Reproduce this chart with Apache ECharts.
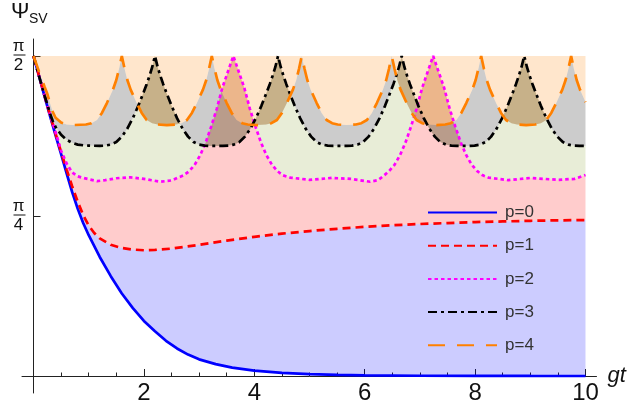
<!DOCTYPE html>
<html><head><meta charset="utf-8">
<script src="https://cdn.jsdelivr.net/npm/echarts@6/dist/echarts.min.js"></script>
<style>html,body{margin:0;padding:0;background:#fff}#c{width:631px;height:414px}</style>
</head><body><div id="c"></div>
<script>
// ---- data (x = gt, y = Ψ_SV / π) ----
const seriesNames = ['p=0', 'p=1', 'p=2', 'p=3', 'p=4'];
const xTickLabels = [2, 4, 6, 8, 10];
const yTickValues = [0.25, 0.5];          // Ψ/π  -> π/4, π/2
const yTickDenominators = ['4', '2'];

const p0 = [[0,0.5],[0.1,0.4685],[0.2,0.437],[0.3,0.406],[0.4,0.376],[0.5,0.3465],[0.6,0.3165],[0.7,0.2875],[0.8,0.2615],[0.9,0.239],[1.0,0.22],[1.2,0.186],[1.4,0.156],[1.6,0.129],[1.8,0.106],[2.0,0.086],[2.2,0.07],[2.4,0.055],[2.6,0.043],[2.8,0.0335],[3.0,0.026],[3.3,0.0185],[3.6,0.013],[4.0,0.0085],[4.5,0.005],[5.0,0.003],[5.5,0.00175],[6.0,0.001],[7.0,0.0004],[8.0,0.00015],[9.0,0.00005],[10,0.00002]];

const p1 = [[0,0.5],[0.1,0.469],[0.2,0.438],[0.3,0.4075],[0.4,0.3785],[0.5,0.35],[0.6,0.3225],[0.7,0.2965],[0.8,0.2725],[0.9,0.2515],[1.0,0.235],[1.1,0.2235],[1.2,0.215],[1.4,0.205],[1.6,0.2],[1.8,0.1975],[2.0,0.1965],[2.2,0.197],[2.5,0.199],[3.0,0.205],[3.5,0.2115],[4.0,0.2175],[4.5,0.2225],[5.0,0.2265],[5.5,0.23],[6.0,0.233],[6.5,0.2355],[7.0,0.2375],[7.5,0.239],[8.0,0.2405],[8.5,0.2415],[9.0,0.2425],[9.5,0.2432],[10,0.2437]];

const p2 = [[0,0.5],[0.1,0.469],[0.2,0.4385],[0.3,0.409],[0.4,0.381],[0.5,0.352],[0.6,0.332],[0.7,0.318],[0.8,0.312],[0.9,0.3095],[1.0,0.3075],[1.15,0.3045],[1.3,0.306],[1.5,0.309],[1.75,0.3105],[2.0,0.308],[2.3,0.3035],[2.5,0.3055],[2.62,0.31],[2.72,0.3135],[2.82,0.32],[2.92,0.33],[3.02,0.345],[3.12,0.365],[3.22,0.39],[3.32,0.4175],[3.42,0.45],[3.52,0.475],[3.62,0.5],[3.72,0.475],[3.82,0.45],[3.92,0.4175],[4.02,0.39],[4.12,0.365],[4.22,0.345],[4.32,0.33],[4.42,0.32],[4.52,0.3135],[4.65,0.31],[5.0,0.3065],[5.4,0.3095],[5.75,0.308],[6.1,0.3035],[6.24,0.306],[6.34,0.3125],[6.44,0.32],[6.54,0.33],[6.64,0.345],[6.74,0.365],[6.84,0.39],[6.94,0.4175],[7.04,0.45],[7.14,0.475],[7.24,0.5],[7.34,0.475],[7.44,0.45],[7.54,0.4175],[7.64,0.39],[7.74,0.365],[7.84,0.345],[7.94,0.33],[8.04,0.32],[8.14,0.3135],[8.24,0.31],[8.6,0.306],[9.0,0.3095],[9.5,0.3065],[9.8,0.308],[10,0.314]];

const p3 = [[0,0.5],[0.1,0.4685],[0.2,0.4385],[0.3,0.41],[0.35,0.398],[0.4,0.389],[0.5,0.377],[0.6,0.369],[0.7,0.3645],[0.8,0.3615],[0.9,0.3605],[1.0,0.36],[1.2,0.3595],
[1.3,0.36],[1.4,0.3615],[1.5,0.3655],[1.6,0.374],[1.7,0.3865],[1.8,0.403],[1.9,0.4225],[2.0,0.4445],[2.05,0.456],[2.1,0.4685],[2.15,0.4825],[2.2,0.5],[2.25,0.4825],[2.3,0.4685],[2.35,0.456],[2.4,0.4445],[2.5,0.4225],[2.6,0.403],[2.7,0.3865],[2.8,0.374],[2.9,0.3655],[3.0,0.3615],[3.1,0.36],[3.2,0.3595],[3.32,0.3595],
[3.43,0.3595],[3.53,0.36],[3.63,0.3615],[3.73,0.3655],[3.83,0.374],[3.93,0.3865],[4.03,0.403],[4.13,0.4225],[4.23,0.4445],[4.28,0.456],[4.33,0.4685],[4.38,0.4825],[4.43,0.5],[4.48,0.4825],[4.53,0.4685],[4.58,0.456],[4.63,0.4445],[4.73,0.4225],[4.83,0.403],[4.93,0.3865],[5.03,0.374],[5.13,0.3655],[5.23,0.3615],[5.33,0.36],[5.43,0.3595],[5.55,0.3595],
[5.67,0.3595],[5.77,0.36],[5.87,0.3615],[5.97,0.3655],[6.07,0.374],[6.17,0.3865],[6.27,0.403],[6.37,0.4225],[6.47,0.4445],[6.52,0.456],[6.57,0.4685],[6.62,0.4825],[6.67,0.5],[6.72,0.4825],[6.77,0.4685],[6.82,0.456],[6.87,0.4445],[6.97,0.4225],[7.07,0.403],[7.17,0.3865],[7.27,0.374],[7.37,0.3655],[7.47,0.3615],[7.57,0.36],[7.67,0.3595],[7.78,0.3595],
[7.89,0.3595],[7.99,0.36],[8.09,0.3615],[8.19,0.3655],[8.29,0.374],[8.39,0.3865],[8.49,0.403],[8.59,0.4225],[8.69,0.4445],[8.74,0.456],[8.79,0.4685],[8.84,0.4825],[8.89,0.5],[8.94,0.4825],[8.99,0.4685],[9.04,0.456],[9.09,0.4445],[9.19,0.4225],[9.29,0.403],[9.39,0.3865],[9.49,0.374],[9.59,0.3655],[9.69,0.3615],[9.79,0.36],[9.89,0.3595],[10,0.3595]];

const p4 = [[0,0.5],[0.1,0.4755],[0.2,0.452],[0.25,0.441],[0.3,0.426],[0.35,0.4125],[0.4,0.4035],[0.5,0.396],[0.6,0.393],[0.7,0.392],
[0.95,0.393],[1.05,0.395],[1.15,0.4],[1.24,0.411],[1.33,0.4265],[1.44,0.4475],[1.5,0.4625],[1.55,0.48],[1.6,0.5],[1.65,0.48],[1.7,0.4625],[1.76,0.4475],[1.87,0.4265],[1.96,0.411],[2.05,0.4],[2.15,0.395],[2.25,0.393],[2.415,0.392],
[2.58,0.393],[2.68,0.395],[2.78,0.4],[2.87,0.411],[2.96,0.4265],[3.07,0.4475],[3.13,0.4625],[3.18,0.48],[3.23,0.5],[3.28,0.48],[3.33,0.4625],[3.39,0.4475],[3.5,0.4265],[3.59,0.411],[3.68,0.4],[3.78,0.395],[3.88,0.393],[4.045,0.392],
[4.21,0.393],[4.31,0.395],[4.41,0.4],[4.5,0.411],[4.59,0.4265],[4.7,0.4475],[4.76,0.4625],[4.81,0.48],[4.86,0.5],[4.91,0.48],[4.96,0.4625],[5.02,0.4475],[5.13,0.4265],[5.22,0.411],[5.31,0.4],[5.41,0.395],[5.51,0.393],[5.675,0.392],
[5.84,0.393],[5.94,0.395],[6.04,0.4],[6.13,0.411],[6.22,0.4265],[6.33,0.4475],[6.39,0.4625],[6.44,0.48],[6.49,0.5],[6.54,0.48],[6.59,0.4625],[6.65,0.4475],[6.76,0.4265],[6.85,0.411],[6.94,0.4],[7.04,0.395],[7.14,0.393],[7.3,0.392],
[7.46,0.393],[7.56,0.395],[7.66,0.4],[7.75,0.411],[7.84,0.4265],[7.95,0.4475],[8.01,0.4625],[8.06,0.48],[8.11,0.5],[8.16,0.48],[8.21,0.4625],[8.27,0.4475],[8.38,0.4265],[8.47,0.411],[8.56,0.4],[8.66,0.395],[8.76,0.393],[8.925,0.392],
[9.09,0.393],[9.19,0.395],[9.29,0.4],[9.38,0.411],[9.47,0.4265],[9.58,0.4475],[9.64,0.4625],[9.69,0.48],[9.74,0.5],[9.79,0.48],[9.84,0.4625],[9.9,0.4475],[10,0.428]];

// ---- styles ----
const FONT = "'Liberation Sans', Arial, sans-serif";
const X_MIN = 0, X_MAX = 10, Y_MIN = 0, Y_MAX = 0.5;
const curves = [p0, p1, p2, p3, p4];
const lineColors = ['#0000ff', '#ff0000', '#ff00ff', '#000000', '#ff8000'];
const lineDashes = ['solid', [8, 5], [3.5, 3], [9, 4, 3, 4], [17, 12]];
const fillColors = ['rgba(0,0,255,0.2)', 'rgba(255,0,0,0.2)', 'rgba(140,165,55,0.2)', 'rgba(0,0,0,0.2)', 'rgba(255,128,0,0.2)'];
const topEdge = [[X_MIN, Y_MAX], [X_MAX, Y_MAX]];

function bandSeries(lower, upper, color) {
  return {
    type: 'custom', coordinateSystem: 'cartesian2d', xAxisIndex: 0, yAxisIndex: 0, silent: true, z: 1,
    data: [[X_MIN, Y_MIN]],
    renderItem: function (params, api) {
      const pts = [];
      for (let i = 0; i < upper.length; i++) pts.push(api.coord(upper[i]));
      for (let i = lower.length - 1; i >= 0; i--) pts.push(api.coord(lower[i]));
      return { type: 'polygon', shape: { points: pts }, style: { fill: color } };
    }
  };
}

const series = [];
for (let k = 0; k < 5; k++) {
  series.push(bandSeries(curves[k], k < 4 ? curves[k + 1] : topEdge, fillColors[k]));
}
for (let k = 0; k < 5; k++) {
  series.push({
    type: 'line', name: seriesNames[k], data: curves[k], xAxisIndex: 0, yAxisIndex: 0,
    showSymbol: false, symbol: 'none',
    smooth: false, silent: true, z: 3 + k, clip: false,
    lineStyle: { color: lineColors[k], width: 2.7, type: lineDashes[k] },
    itemStyle: { color: lineColors[k] }
  });
}

const AXIS_COLOR = '#222';
const chart = echarts.init(document.getElementById('c'), null, { renderer: 'canvas' });
chart.setOption({
  animation: false,
  backgroundColor: '#ffffff',
  textStyle: { fontFamily: FONT },
  title: [
    { text: 'Ψ', left: 11, top: 1, padding: 0, textStyle: { fontSize: 22, fontWeight: 'normal', color: '#111', fontFamily: FONT } },
    { text: 'SV', left: 29, top: 12, padding: 0, textStyle: { fontSize: 14, fontWeight: 'normal', color: '#111', fontFamily: FONT } }
  ],
  legend: {
    orient: 'vertical', left: 427, top: 204, padding: 0, itemWidth: 69, itemHeight: 14, itemGap: 16.2,
    selectedMode: false, data: seriesNames,
    itemStyle: { opacity: 0 },
    textStyle: { fontSize: 17, color: '#333', fontFamily: FONT, padding: [0, 0, 0, 3] }
  },
  grid: [
    { left: 33.5, right: 45.5, top: 56, bottom: 38, containLabel: false, outerBoundsMode: 'none' },
    // frame for the axis lines, which run a little past the plotted range (pixel units)
    { left: 22, right: 34.5, top: 39, bottom: 21, containLabel: false, outerBoundsMode: 'none' }
  ],
  xAxis: [{
    type: 'value', gridIndex: 0, min: X_MIN, max: X_MAX, interval: 2,
    axisLine: { show: false },
    axisTick: { show: true, inside: true, length: 7, lineStyle: { color: AXIS_COLOR } },
    minorTick: { show: true, splitNumber: 4, length: 3.5, lineStyle: { color: AXIS_COLOR } },
    splitLine: { show: false },
    axisLabel: {
      fontSize: 24, color: '#111', margin: 5, fontFamily: FONT,
      formatter: v => (xTickLabels.indexOf(v) >= 0 ? String(v) : '')
    },
    name: 'gt', nameLocation: 'end', nameGap: 22,
    nameTextStyle: { fontSize: 22, fontStyle: 'italic', color: '#111', fontFamily: FONT }
  }, {
    type: 'value', gridIndex: 1, min: -11.5, max: 563,
    axisLine: { show: true, onZero: true, lineStyle: { color: AXIS_COLOR, width: 1 } },
    axisTick: { show: false }, axisLabel: { show: false }, splitLine: { show: false }
  }],
  yAxis: [{
    type: 'value', gridIndex: 0, min: Y_MIN, max: Y_MAX, interval: 0.25,
    axisLine: { show: false },
    axisTick: { show: true, inside: true, length: 7, lineStyle: { color: AXIS_COLOR } },
    splitLine: { show: false },
    axisLabel: {
      margin: 8, color: '#111', fontFamily: FONT,
      formatter: function (v) {
        const i = yTickValues.indexOf(v);
        if (i < 0) return '';
        return '{n|π}\n{b| }\n{d|' + yTickDenominators[i] + '}';
      },
      rich: {
        n: { fontSize: 17, lineHeight: 15, width: 14, align: 'center', color: '#111', fontFamily: FONT },
        b: { fontSize: 2, lineHeight: 3, width: 12, height: 1, backgroundColor: '#111' },
        d: { fontSize: 17, lineHeight: 17, width: 14, align: 'center', color: '#111', fontFamily: FONT }
      }
    }
  }, {
    type: 'value', gridIndex: 1, min: -17, max: 337,
    axisLine: { show: true, onZero: true, lineStyle: { color: AXIS_COLOR, width: 1 } },
    axisTick: { show: false }, axisLabel: { show: false }, splitLine: { show: false }
  }],
  series: series
});
</script></body></html>
